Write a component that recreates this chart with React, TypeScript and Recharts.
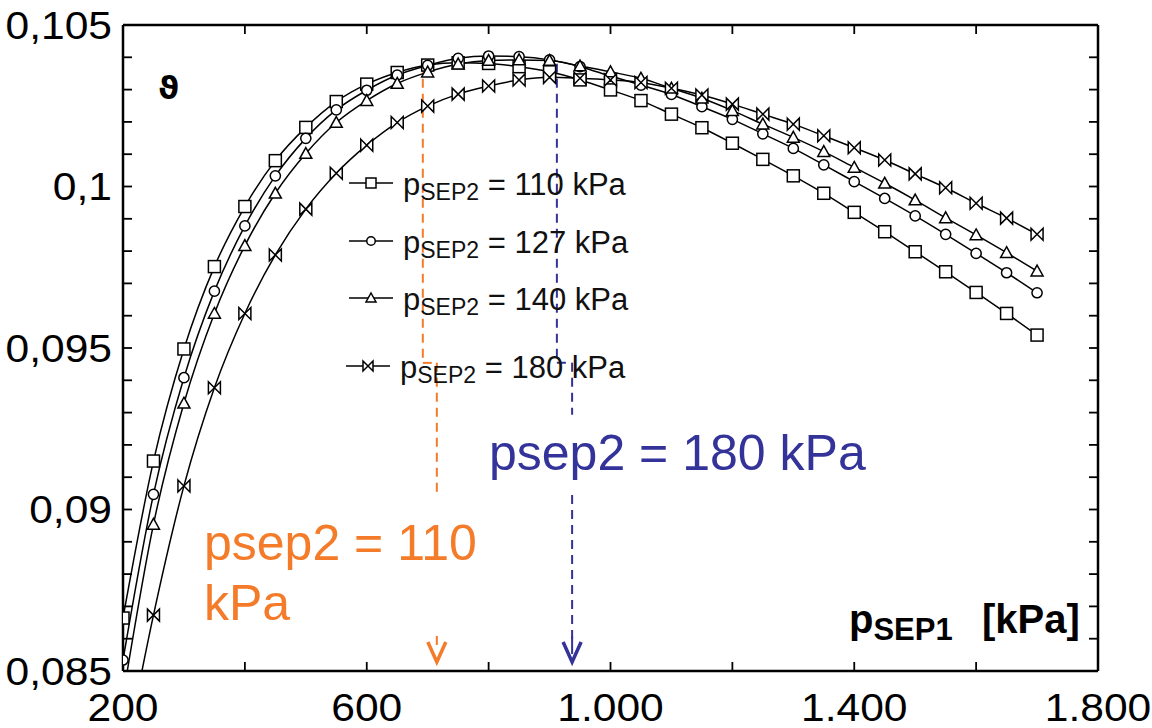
import React from "react";
import { LineChart, Line, XAxis, YAxis, ReferenceLine, ReferenceDot } from "recharts";

document.body.style.margin = "0";

// p_SEP1 [kPa]
const P_SEP1 = [
  200, 250, 300, 350, 400, 450, 500, 550, 600, 650, 700, 750, 800, 850, 900, 950,
  1000, 1050, 1100, 1150, 1200, 1250, 1300, 1350, 1400, 1450, 1500, 1550, 1600, 1650, 1700,
];

// theta for each p_SEP2
const THETA_110 = [
  0.08664, 0.0915, 0.09497, 0.09752, 0.09938, 0.1008, 0.10183, 0.10263, 0.10317, 0.10353,
  0.10376, 0.10383, 0.10381, 0.10371, 0.10355, 0.1033, 0.10299, 0.10266, 0.10224, 0.10182,
  0.10134, 0.10084, 0.10033, 0.09979, 0.0992, 0.0986, 0.09798, 0.09736, 0.09672, 0.09607, 0.0954,
];
const THETA_127 = [
  0.08534, 0.09047, 0.09408, 0.09676, 0.09878, 0.10033, 0.10149, 0.10237, 0.10298, 0.10345,
  0.10375, 0.10397, 0.10404, 0.10402, 0.10392, 0.10371, 0.10342, 0.10314, 0.10285, 0.10247,
  0.10208, 0.10163, 0.10118, 0.10067, 0.10015, 0.09963, 0.09909, 0.09852, 0.09793, 0.09733, 0.09671,
];
const THETA_140 = [
  0.0842, 0.08954, 0.09329, 0.09607, 0.09817, 0.09979, 0.10102, 0.10198, 0.10266, 0.10319,
  0.10354, 0.10379, 0.1039, 0.10392, 0.1039, 0.10373, 0.10355, 0.10335, 0.10304, 0.10273,
  0.10235, 0.10193, 0.10152, 0.10108, 0.10059, 0.1001, 0.09958, 0.09903, 0.0985, 0.09795, 0.09738,
];
const THETA_180 = [
  0.082, 0.08673, 0.09073, 0.09377, 0.09607, 0.09788, 0.0993, 0.10041, 0.10128, 0.10198,
  0.10249, 0.10286, 0.10311, 0.1033, 0.10338, 0.10335, 0.1033, 0.10322, 0.10304, 0.10283,
  0.10255, 0.10224, 0.10193, 0.10157, 0.1012, 0.10082, 0.10039, 0.09996, 0.09948, 0.09902, 0.09852,
];

const X_TICKS = [200, 400, 600, 800, 1000, 1200, 1400, 1600, 1800];
const Y_TICKS = [
  0.085, 0.086, 0.087, 0.088, 0.089, 0.09, 0.091, 0.092, 0.093, 0.094, 0.095,
  0.096, 0.097, 0.098, 0.099, 0.1, 0.101, 0.102, 0.103, 0.104, 0.105,
];

const LEGEND_LABELS = ["110", "127", "140", "180"];

// hand-drawn optimum markers (data coords)
const OPT_110 = { top: 0.1038, jog: 0.09454, bottom: 0.09036, xUpper: 692, xLower: 715 };
const OPT_180 = { top: 0.1038, jog: 0.09454, gapTop: 0.09293, gapBottom: 0.09045, bottom: 0.0855, xUpper: 912, xLower: 937 };
const ARROW_TIP = 0.08528;

const ORANGE = "#f47b2a";
const BLUE = "#333399";
const FONT = "'Liberation Sans', Arial, sans-serif";

type Shape = "square" | "circle" | "triangle" | "bowtie";

const SERIES: { key: string; shape: Shape }[] = [
  { key: "t110", shape: "square" },
  { key: "t127", shape: "circle" },
  { key: "t140", shape: "triangle" },
  { key: "t180", shape: "bowtie" },
];

const data = P_SEP1.map((p, i) => ({
  p,
  t110: THETA_110[i],
  t127: THETA_127[i],
  t140: THETA_140[i],
  t180: THETA_180[i],
}));

function Marker({ shape, cx, cy, r }: { shape: Shape; cx: number; cy: number; r: number }) {
  const st = { fill: "#fff", stroke: "#000", strokeWidth: 1.5 };
  if (shape === "square") return <rect x={cx - r} y={cy - r} width={2 * r} height={2 * r} {...st} />;
  if (shape === "circle") return <circle cx={cx} cy={cy} r={r * 0.85} {...st} />;
  if (shape === "triangle")
    return <path d={`M${cx},${cy - r} L${cx + r},${cy + r * 0.8} L${cx - r},${cy + r * 0.8} Z`} {...st} />;
  return <path d={`M${cx - r},${cy - r} L${cx + r},${cy + r} L${cx + r},${cy - r} L${cx - r},${cy + r} Z`} {...st} />;
}

const fmtX = (v: number) => {
  if ((v - 200) % 400 !== 0) return "";
  return v >= 1000 ? `${Math.floor(v / 1000)}.${String(v % 1000).padStart(3, "0")}` : String(v);
};
const fmtY = (v: number) => {
  const k = Math.round(v * 1000);
  if (k % 5 !== 0) return "";
  return String(+v.toFixed(3)).replace(".", ",");
};

// tick labels in the source are a little wider than Arial
function XTick(props: any) {
  const { x, y, payload } = props;
  return (
    <g transform={`translate(${x},${y}) scale(1.12,1)`}>
      <text textAnchor="middle" dy="0.71em" fontSize={38} fontFamily={FONT} fill="#000">
        {fmtX(payload.value)}
      </text>
    </g>
  );
}
function YTick(props: any) {
  const { x, y, payload } = props;
  return (
    <g transform={`translate(${x},${y}) scale(1.12,1)`}>
      <text textAnchor="end" dy="0.36em" fontSize={38} fontFamily={FONT} fill="#000">
        {fmtY(payload.value)}
      </text>
    </g>
  );
}

const axisLine = { stroke: "#000", strokeWidth: 2.5 };
const tickLine = { stroke: "#000", strokeWidth: 1.8 };

function Chevron(color: string) {
  return (props: any) => {
    const { cx, cy } = props;
    return (
      <g>
        <line x1={cx} x2={cx} y1={cy - 26} y2={cy - 17} stroke={color} strokeWidth={2} />
        <path
          d={`M${cx - 9},${cy - 20} L${cx},${cy} L${cx + 9},${cy - 20}`}
          fill="none"
          stroke={color}
          strokeWidth={3.5}
          strokeLinejoin="miter"
        />
      </g>
    );
  };
}

const legendRows = [183, 241, 298, 366];

export default function App() {
  return (
    <div style={{ position: "relative", width: 1152, height: 728, background: "#fff" }}>
      <LineChart width={1152} height={728} data={data} margin={{ top: 0, right: 0, bottom: 0, left: 0 }}>
        <XAxis
          dataKey="p"
          type="number"
          domain={[200, 1800]}
          ticks={X_TICKS}
          interval={0}
          allowDataOverflow
          height={57}
          tickSize={-9}
          tickMargin={32}
          tick={<XTick />}
          axisLine={axisLine}
          tickLine={tickLine}
        />
        <XAxis
          xAxisId="top"
          orientation="top"
          dataKey="p"
          type="number"
          domain={[200, 1800]}
          ticks={X_TICKS}
          interval={0}
          allowDataOverflow
          height={25}
          tickSize={-9}
          tickFormatter={() => ""}
          axisLine={axisLine}
          tickLine={tickLine}
        />
        <YAxis
          type="number"
          domain={[0.085, 0.105]}
          ticks={Y_TICKS}
          interval={0}
          allowDataOverflow
          width={123}
          tickSize={-9}
          tickMargin={20}
          tick={<YTick />}
          axisLine={axisLine}
          tickLine={tickLine}
        />
        <YAxis
          yAxisId="right"
          orientation="right"
          type="number"
          domain={[0.085, 0.105]}
          ticks={Y_TICKS}
          interval={0}
          allowDataOverflow
          width={54}
          tickSize={-9}
          tickFormatter={() => ""}
          axisLine={axisLine}
          tickLine={tickLine}
        />

        {/* optimum for p_SEP2 = 110 kPa */}
        <ReferenceLine segment={[{ x: OPT_110.xUpper, y: OPT_110.top }, { x: OPT_110.xUpper, y: OPT_110.jog }]} stroke={ORANGE} strokeWidth={2} strokeDasharray="9 6" ifOverflow="visible" />
        <ReferenceLine segment={[{ x: OPT_110.xUpper, y: OPT_110.jog }, { x: OPT_110.xLower, y: OPT_110.jog }]} stroke={ORANGE} strokeWidth={2} strokeDasharray="9 6" ifOverflow="visible" />
        <ReferenceLine segment={[{ x: OPT_110.xLower, y: OPT_110.jog }, { x: OPT_110.xLower, y: OPT_110.bottom }]} stroke={ORANGE} strokeWidth={2} strokeDasharray="9 6" ifOverflow="visible" />
        <ReferenceDot x={OPT_110.xLower} y={ARROW_TIP} ifOverflow="visible" shape={Chevron(ORANGE)} />

        {/* optimum for p_SEP2 = 180 kPa */}
        <ReferenceLine segment={[{ x: OPT_180.xUpper, y: OPT_180.top }, { x: OPT_180.xUpper, y: OPT_180.jog }]} stroke={BLUE} strokeWidth={2} strokeDasharray="9 6" ifOverflow="visible" />
        <ReferenceLine segment={[{ x: OPT_180.xUpper, y: OPT_180.jog }, { x: OPT_180.xLower, y: OPT_180.jog }]} stroke={BLUE} strokeWidth={2} strokeDasharray="9 6" ifOverflow="visible" />
        <ReferenceLine segment={[{ x: OPT_180.xLower, y: OPT_180.jog }, { x: OPT_180.xLower, y: OPT_180.gapTop }]} stroke={BLUE} strokeWidth={2} strokeDasharray="9 6" ifOverflow="visible" />
        <ReferenceLine segment={[{ x: OPT_180.xLower, y: OPT_180.gapBottom }, { x: OPT_180.xLower, y: OPT_180.bottom }]} stroke={BLUE} strokeWidth={2} strokeDasharray="9 6" ifOverflow="visible" />
        <ReferenceDot x={OPT_180.xLower} y={ARROW_TIP} ifOverflow="visible" shape={Chevron(BLUE)} />

        {SERIES.map((s) => (
          <Line
            key={s.key}
            dataKey={s.key}
            type="monotone"
            stroke="#000"
            strokeWidth={1.5}
            isAnimationActive={false}
            dot={(props: any) =>
              props.cx == null || props.cy == null ? (
                <g key={`${s.key}-${props.index}`} />
              ) : (
                <Marker key={`${s.key}-${props.index}`} shape={s.shape} cx={props.cx} cy={props.cy} r={6} />
              )
            }
          />
        ))}
      </LineChart>

      <svg width={1152} height={728} style={{ position: "absolute", left: 0, top: 0, pointerEvents: "none" }}>
        <text x={158} y={99} fontSize={32} fontWeight="bold" fontFamily="'DejaVu Sans', sans-serif">ϑ</text>

        {SERIES.map((s, i) => {
          const cy = legendRows[i];
          const x0 = i === 3 ? 346 : 349;
          return (
            <g key={s.key}>
              <line x1={x0} x2={x0 + 44} y1={cy} y2={cy} stroke="#000" strokeWidth={1.5} />
              <Marker shape={s.shape} cx={x0 + 22} cy={cy} r={5} />
              <text x={x0 + 54} y={cy + 12} fontSize={31} fontFamily={FONT} fill="#111">
                p
                <tspan fontSize={23} dy={5}>SEP2</tspan>
                <tspan dy={-5}>{` = ${LEGEND_LABELS[i]} kPa`}</tspan>
              </text>
            </g>
          );
        })}

        <text x={204} y={560} fontSize={50} fontFamily={FONT} fill={ORANGE}>psep2 = 110</text>
        <text x={204} y={620} fontSize={50} fontFamily={FONT} fill={ORANGE}>kPa</text>
        <text x={489} y={470} fontSize={50} fontFamily={FONT} fill={BLUE}>psep2 = 180 kPa</text>

        <text x={849} y={633} fontSize={40} fontWeight="bold" fontFamily={FONT} fill="#000">
          p
          <tspan fontSize={31} dy={7}>SEP1</tspan>
        </text>
        <text x={982} y={633} fontSize={40} fontWeight="bold" fontFamily={FONT} fill="#000">[kPa]</text>
      </svg>
    </div>
  );
}
